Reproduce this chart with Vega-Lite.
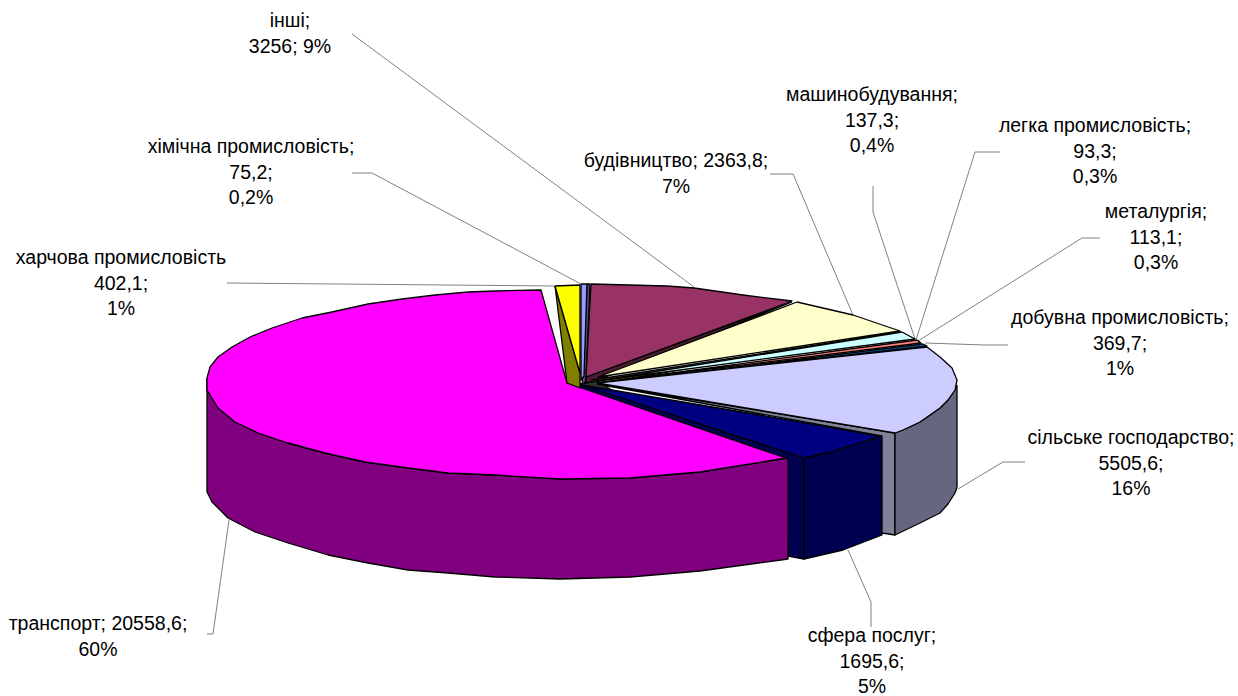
{"$schema":"https://vega.github.io/schema/vega-lite/v6.json","width":1238,"height":696,"padding":0,"autosize":{"type":"fit","contains":"padding"},"background":"white","view":{"stroke":null},
"datasets":{
"shapes":[
{"p":"сфера внутр","i":1,"x":567,"y":383},{"p":"сфера внутр","i":2,"x":580,"y":384},{"p":"сфера внутр","i":3,"x":804,"y":458},{"p":"сфера внутр","i":4,"x":804,"y":559},{"p":"сфера внутр","i":5,"x":788,"y":556},{"p":"сфера внутр","i":6,"x":786,"y":458},
{"p":"транспорт стінка","i":1,"x":207,"y":378},{"p":"транспорт стінка","i":2,"x":207,"y":390},{"p":"транспорт стінка","i":3,"x":218,"y":408},{"p":"транспорт стінка","i":4,"x":235,"y":422},{"p":"транспорт стінка","i":5,"x":258,"y":433},{"p":"транспорт стінка","i":6,"x":288,"y":443},{"p":"транспорт стінка","i":7,"x":325,"y":453},{"p":"транспорт стінка","i":8,"x":365,"y":462},{"p":"транспорт стінка","i":9,"x":408,"y":468},{"p":"транспорт стінка","i":10,"x":448,"y":473},{"p":"транспорт стінка","i":11,"x":495,"y":475},{"p":"транспорт стінка","i":12,"x":560,"y":479},{"p":"транспорт стінка","i":13,"x":630,"y":478},{"p":"транспорт стінка","i":14,"x":700,"y":472},{"p":"транспорт стінка","i":15,"x":788,"y":458},{"p":"транспорт стінка","i":16,"x":788,"y":559},{"p":"транспорт стінка","i":17,"x":700,"y":571},{"p":"транспорт стінка","i":18,"x":630,"y":577},{"p":"транспорт стінка","i":19,"x":560,"y":579},{"p":"транспорт стінка","i":20,"x":495,"y":577},{"p":"транспорт стінка","i":21,"x":448,"y":573},{"p":"транспорт стінка","i":22,"x":408,"y":570},{"p":"транспорт стінка","i":23,"x":368,"y":563},{"p":"транспорт стінка","i":24,"x":328,"y":555},{"p":"транспорт стінка","i":25,"x":288,"y":543},{"p":"транспорт стінка","i":26,"x":255,"y":532},{"p":"транспорт стінка","i":27,"x":228,"y":518},{"p":"транспорт стінка","i":28,"x":212,"y":502},{"p":"транспорт стінка","i":29,"x":207,"y":492},{"p":"транспорт стінка","i":30,"x":207,"y":378},
{"p":"транспорт","i":1,"x":567,"y":383},{"p":"транспорт","i":2,"x":553,"y":333},{"p":"транспорт","i":3,"x":541,"y":290},{"p":"транспорт","i":4,"x":495,"y":291},{"p":"транспорт","i":5,"x":468,"y":292},{"p":"транспорт","i":6,"x":435,"y":295},{"p":"транспорт","i":7,"x":402,"y":299},{"p":"транспорт","i":8,"x":368,"y":304},{"p":"транспорт","i":9,"x":332,"y":312},{"p":"транспорт","i":10,"x":302,"y":318},{"p":"транспорт","i":11,"x":272,"y":328},{"p":"транспорт","i":12,"x":250,"y":337},{"p":"транспорт","i":13,"x":232,"y":347},{"p":"транспорт","i":14,"x":218,"y":357},{"p":"транспорт","i":15,"x":210,"y":367},{"p":"транспорт","i":16,"x":207,"y":378},{"p":"транспорт","i":17,"x":207,"y":390},{"p":"транспорт","i":18,"x":218,"y":408},{"p":"транспорт","i":19,"x":235,"y":422},{"p":"транспорт","i":20,"x":258,"y":433},{"p":"транспорт","i":21,"x":288,"y":443},{"p":"транспорт","i":22,"x":325,"y":453},{"p":"транспорт","i":23,"x":365,"y":462},{"p":"транспорт","i":24,"x":408,"y":468},{"p":"транспорт","i":25,"x":448,"y":473},{"p":"транспорт","i":26,"x":495,"y":475},{"p":"транспорт","i":27,"x":560,"y":479},{"p":"транспорт","i":28,"x":630,"y":478},{"p":"транспорт","i":29,"x":700,"y":472},{"p":"транспорт","i":30,"x":786,"y":458},{"p":"транспорт","i":31,"x":567,"y":383},
{"p":"харчова стінка","i":1,"x":555,"y":286},{"p":"харчова стінка","i":2,"x":580,"y":373},{"p":"харчова стінка","i":3,"x":580,"y":388},{"p":"харчова стінка","i":4,"x":567,"y":383},{"p":"харчова стінка","i":5,"x":555,"y":286},
{"p":"харчова","i":1,"x":555,"y":286},{"p":"харчова","i":2,"x":580,"y":285},{"p":"харчова","i":3,"x":580,"y":373},{"p":"харчова","i":4,"x":555,"y":286},
{"p":"хімічна стінка","i":1,"x":587,"y":284},{"p":"хімічна стінка","i":2,"x":590,"y":284},{"p":"хімічна стінка","i":3,"x":586,"y":380},{"p":"хімічна стінка","i":4,"x":582,"y":388},{"p":"хімічна стінка","i":5,"x":587,"y":284},
{"p":"хімічна","i":1,"x":581,"y":284},{"p":"хімічна","i":2,"x":587,"y":284},{"p":"хімічна","i":3,"x":584,"y":376},{"p":"хімічна","i":4,"x":581,"y":380},{"p":"хімічна","i":5,"x":581,"y":284},
{"p":"інші стінка","i":1,"x":792,"y":302},{"p":"інші стінка","i":2,"x":586,"y":377},{"p":"інші стінка","i":3,"x":586,"y":385},{"p":"інші стінка","i":4,"x":792,"y":302},
{"p":"інші","i":1,"x":591,"y":284},{"p":"інші","i":2,"x":667,"y":286},{"p":"інші","i":3,"x":694,"y":288},{"p":"інші","i":4,"x":743,"y":295},{"p":"інші","i":5,"x":792,"y":301},{"p":"інші","i":6,"x":586,"y":377},{"p":"інші","i":7,"x":591,"y":284},
{"p":"будівництво стінка","i":1,"x":900,"y":332},{"p":"будівництво стінка","i":2,"x":592,"y":380},{"p":"будівництво стінка","i":3,"x":592,"y":385},{"p":"будівництво стінка","i":4,"x":900,"y":332},
{"p":"будівництво","i":1,"x":797,"y":302},{"p":"будівництво","i":2,"x":853,"y":315},{"p":"будівництво","i":3,"x":900,"y":331},{"p":"будівництво","i":4,"x":598,"y":377},{"p":"будівництво","i":5,"x":797,"y":302},
{"p":"машинобудування","i":1,"x":902,"y":332},{"p":"машинобудування","i":2,"x":915,"y":339},{"p":"машинобудування","i":3,"x":597,"y":381},{"p":"машинобудування","i":4,"x":902,"y":332},
{"p":"легка","i":1,"x":917,"y":340},{"p":"легка","i":2,"x":921,"y":343},{"p":"легка","i":3,"x":597,"y":383},{"p":"легка","i":4,"x":917,"y":340},
{"p":"добувна","i":1,"x":923,"y":344},{"p":"добувна","i":2,"x":927,"y":346},{"p":"добувна","i":3,"x":597,"y":384},{"p":"добувна","i":4,"x":923,"y":344},
{"p":"центр","i":1,"x":580,"y":384},{"p":"центр","i":2,"x":597,"y":381},{"p":"центр","i":3,"x":612,"y":390},{"p":"центр","i":4,"x":597,"y":390},{"p":"центр","i":5,"x":580,"y":384},
{"p":"сфера","i":1,"x":582,"y":385},{"p":"сфера","i":2,"x":760,"y":415},{"p":"сфера","i":3,"x":880,"y":436},{"p":"сфера","i":4,"x":860,"y":443},{"p":"сфера","i":5,"x":827,"y":453},{"p":"сфера","i":6,"x":804,"y":458},{"p":"сфера","i":7,"x":582,"y":385},
{"p":"сфера стінка","i":1,"x":804,"y":458},{"p":"сфера стінка","i":2,"x":827,"y":453},{"p":"сфера стінка","i":3,"x":860,"y":443},{"p":"сфера стінка","i":4,"x":882,"y":436},{"p":"сфера стінка","i":5,"x":882,"y":535},{"p":"сфера стінка","i":6,"x":843,"y":550},{"p":"сфера стінка","i":7,"x":804,"y":559},{"p":"сфера стінка","i":8,"x":804,"y":458},
{"p":"сільське смуга","i":1,"x":597,"y":384},{"p":"сільське смуга","i":2,"x":895,"y":433},{"p":"сільське смуга","i":3,"x":895,"y":535},{"p":"сільське смуга","i":4,"x":882,"y":533},{"p":"сільське смуга","i":5,"x":882,"y":436},{"p":"сільське смуга","i":6,"x":597,"y":384},
{"p":"сільське стінка","i":1,"x":957,"y":385},{"p":"сільське стінка","i":2,"x":955,"y":390},{"p":"сільське стінка","i":3,"x":948,"y":400},{"p":"сільське стінка","i":4,"x":940,"y":408},{"p":"сільське стінка","i":5,"x":920,"y":422},{"p":"сільське стінка","i":6,"x":903,"y":430},{"p":"сільське стінка","i":7,"x":895,"y":433},{"p":"сільське стінка","i":8,"x":895,"y":535},{"p":"сільське стінка","i":9,"x":920,"y":523},{"p":"сільське стінка","i":10,"x":940,"y":513},{"p":"сільське стінка","i":11,"x":948,"y":504},{"p":"сільське стінка","i":12,"x":955,"y":493},{"p":"сільське стінка","i":13,"x":957,"y":487},{"p":"сільське стінка","i":14,"x":957,"y":385},
{"p":"сільське","i":1,"x":597,"y":383},{"p":"сільське","i":2,"x":927,"y":347},{"p":"сільське","i":3,"x":940,"y":357},{"p":"сільське","i":4,"x":952,"y":368},{"p":"сільське","i":5,"x":957,"y":380},{"p":"сільське","i":6,"x":955,"y":390},{"p":"сільське","i":7,"x":948,"y":400},{"p":"сільське","i":8,"x":940,"y":408},{"p":"сільське","i":9,"x":920,"y":422},{"p":"сільське","i":10,"x":903,"y":430},{"p":"сільське","i":11,"x":895,"y":433},{"p":"сільське","i":12,"x":597,"y":383}
],
"leaders":[
{"l":"інші","i":1,"x":352,"y":34},{"l":"інші","i":2,"x":694,"y":287},
{"l":"хімічна","i":1,"x":352,"y":173},{"l":"хімічна","i":2,"x":372,"y":173},{"l":"хімічна","i":3,"x":581,"y":284},
{"l":"харчова","i":1,"x":227,"y":283},{"l":"харчова","i":2,"x":555,"y":286},
{"l":"будівництво","i":1,"x":770,"y":174},{"l":"будівництво","i":2,"x":793,"y":174},{"l":"будівництво","i":3,"x":853,"y":315},
{"l":"машинобудування","i":1,"x":873,"y":186},{"l":"машинобудування","i":2,"x":873,"y":212},{"l":"машинобудування","i":3,"x":915,"y":339},
{"l":"легка","i":1,"x":1000,"y":152},{"l":"легка","i":2,"x":975,"y":152},{"l":"легка","i":3,"x":916,"y":340},
{"l":"металургія","i":1,"x":1100,"y":238},{"l":"металургія","i":2,"x":1082,"y":238},{"l":"металургія","i":3,"x":918,"y":341},
{"l":"добувна","i":1,"x":1008,"y":345},{"l":"добувна","i":2,"x":985,"y":345},{"l":"добувна","i":3,"x":925,"y":343},
{"l":"сільське","i":1,"x":1025,"y":462},{"l":"сільське","i":2,"x":1003,"y":462},{"l":"сільське","i":3,"x":958,"y":489},
{"l":"сфера","i":1,"x":871,"y":627},{"l":"сфера","i":2,"x":871,"y":602},{"l":"сфера","i":3,"x":848,"y":550},
{"l":"транспорт","i":1,"x":207,"y":634},{"l":"транспорт","i":2,"x":213,"y":634},{"l":"транспорт","i":3,"x":229,"y":520}
],
"labels":[
{"t":"інші;\n3256; 9%","x":290,"y":12},
{"t":"хімічна промисловість;\n75,2;\n0,2%","x":251,"y":138},
{"t":"харчова промисловість\n402,1;\n1%","x":121,"y":249},
{"t":"будівництво; 2363,8;\n7%","x":676,"y":152},
{"t":"машинобудування;\n137,3;\n0,4%","x":872,"y":86},
{"t":"легка промисловість;\n93,3;\n0,3%","x":1095,"y":117},
{"t":"металургія;\n113,1;\n0,3%","x":1156,"y":203},
{"t":"добувна промисловість;\n369,7;\n1%","x":1120,"y":309},
{"t":"сільське господарство;\n5505,6;\n16%","x":1131,"y":429},
{"t":"сфера послуг;\n1695,6;\n5%","x":872,"y":627},
{"t":"транспорт; 20558,6;\n60%","x":98,"y":615}
]},
"encoding":{
"x":{"field":"x","type":"quantitative","axis":null,"scale":{"domain":[0,1238],"range":[0,1238],"nice":false,"zero":false}},
"y":{"field":"y","type":"quantitative","axis":null,"scale":{"domain":[0,696],"range":[0,696],"nice":false,"zero":false}}
},
"layer":[
{"data":{"name":"leaders"},"mark":{"type":"line","stroke":"#808080","strokeWidth":1},"encoding":{"detail":{"field":"l"},"order":{"field":"i","type":"quantitative"}}},
{"data":{"name":"shapes"},"mark":{"type":"line","filled":true,"stroke":"#000000","strokeWidth":1.3,"strokeJoin":"round"},"encoding":{"order":{"field":"i","type":"quantitative"},"detail":{"field":"p"},
"fill":{"field":"p","type":"nominal","legend":null,"scale":{
"domain":["сфера внутр","транспорт стінка","транспорт","харчова стінка","харчова","хімічна стінка","хімічна","інші стінка","інші","будівництво стінка","будівництво","машинобудування","легка","добувна","центр","сфера","сфера стінка","сільське смуга","сільське стінка","сільське"],
"range":["#000050","#800080","#FF00FF","#808000","#FFFF00","#4D4D80","#9999FF","#4D1A33","#993366","#666633","#FFFFCC","#CCFFFF","#FF8080","#0066CC","#333333","#000080","#000050","#808099","#666680","#CCCCFF"]}}}},
{"data":{"name":"labels"},"mark":{"type":"text","font":"Liberation Sans","fontSize":19.5,"align":"center","baseline":"top","lineBreak":"\n","lineHeight":25.7,"color":"#000000"},"encoding":{"text":{"field":"t"}}}
]}
